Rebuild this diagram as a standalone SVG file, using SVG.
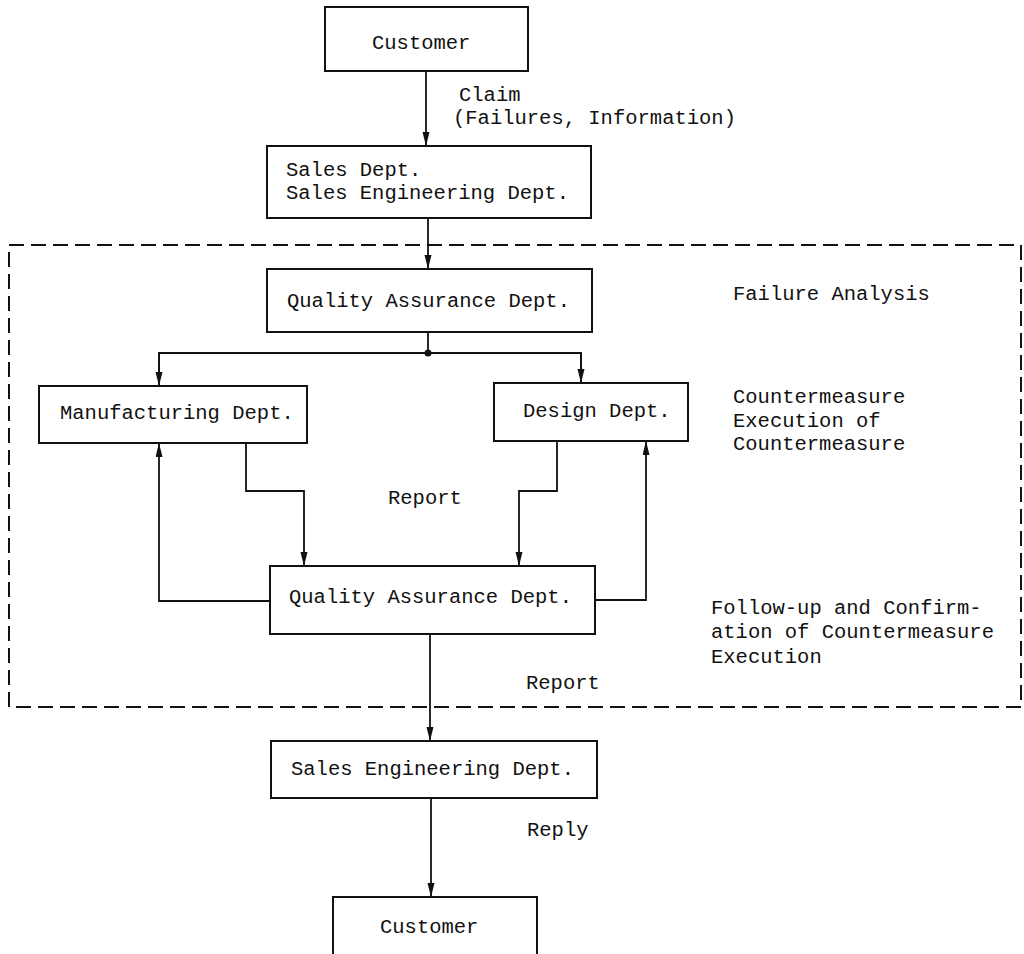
<svg xmlns="http://www.w3.org/2000/svg" width="1024" height="954" viewBox="0 0 1024 954">
<style>
.box{fill:#fff;stroke:#111;stroke-width:2}
.ln{fill:none;stroke:#111;stroke-width:1.8}
.t{font-family:"Liberation Mono","DejaVu Sans Mono",monospace;font-size:20.5px;fill:#111}
.dash{fill:none;stroke:#111;stroke-width:2;stroke-dasharray:15 7}
</style>
<defs>
<marker id="ah" markerUnits="userSpaceOnUse" markerWidth="14" markerHeight="8" refX="14" refY="3.5" orient="auto">
<path d="M0,0 L14,3.5 L0,7 z" fill="#111"/>
</marker>
</defs>
<rect width="1024" height="954" fill="#fff"/>
<rect id="region" class="dash" x="9" y="245" width="1012" height="462"/>
<g id="connectors">
<line class="ln" x1="426" y1="71" x2="426" y2="146" marker-end="url(#ah)"/>
<line class="ln" x1="428" y1="218" x2="428" y2="269" marker-end="url(#ah)"/>
<line class="ln" x1="428" y1="332" x2="428" y2="353"/>
<circle cx="428" cy="353" r="3.5" fill="#111"/>
<polyline class="ln" points="159,386 159,353 581,353 581,383"/>
<line class="ln" x1="159" y1="353" x2="159" y2="386" marker-end="url(#ah)"/>
<line class="ln" x1="581" y1="353" x2="581" y2="383" marker-end="url(#ah)"/>
<polyline class="ln" points="246,443 246,491 304,491 304,566" marker-end="url(#ah)"/>
<polyline class="ln" points="270,601 159,601 159,443" marker-end="url(#ah)"/>
<polyline class="ln" points="557,441 557,491 519,491 519,566" marker-end="url(#ah)"/>
<polyline class="ln" points="595,600 646,600 646,441" marker-end="url(#ah)"/>
<line class="ln" x1="430" y1="634" x2="430" y2="741" marker-end="url(#ah)"/>
<line class="ln" x1="431" y1="798" x2="431" y2="897" marker-end="url(#ah)"/>
</g>
<g id="customer1"><rect class="box" x="325" y="7" width="203" height="64"/><text class="t" x="372" y="49">Customer</text></g>
<g id="claim-label"><text class="t" x="459" y="101">Claim</text><text class="t" x="453" y="124">(Failures, Information)</text></g>
<g id="sales"><rect class="box" x="267" y="146" width="324" height="72"/><text class="t" x="286" y="176">Sales Dept.</text><text class="t" x="286" y="199">Sales Engineering Dept.</text></g>
<g id="qa1"><rect class="box" x="267" y="269" width="325" height="63"/><text class="t" x="287" y="307">Quality Assurance Dept.</text></g>
<g id="failure-label"><text class="t" x="733" y="300">Failure Analysis</text></g>
<g id="manufacturing"><rect class="box" x="39" y="386" width="268" height="57"/><text class="t" x="60" y="419">Manufacturing Dept.</text></g>
<g id="design"><rect class="box" x="494" y="383" width="194" height="58"/><text class="t" x="523" y="417">Design Dept.</text></g>
<g id="counter-label"><text class="t" x="733" y="403">Countermeasure</text><text class="t" x="733" y="427">Execution of</text><text class="t" x="733" y="450">Countermeasure</text></g>
<g id="report1"><text class="t" x="388" y="504">Report</text></g>
<g id="qa2"><rect class="box" x="270" y="566" width="325" height="68"/><text class="t" x="289" y="603">Quality Assurance Dept.</text></g>
<g id="follow-label"><text class="t" x="711" y="614">Follow-up and Confirm-</text><text class="t" x="711" y="638">ation of Countermeasure</text><text class="t" x="711" y="663">Execution</text></g>
<g id="report2"><text class="t" x="526" y="689">Report</text></g>
<g id="saleseng"><rect class="box" x="271" y="741" width="326" height="57"/><text class="t" x="291" y="775">Sales Engineering Dept.</text></g>
<g id="reply"><text class="t" x="527" y="836">Reply</text></g>
<g id="customer2"><rect class="box" x="333" y="897" width="204" height="70"/><text class="t" x="380" y="933">Customer</text></g>
</svg>
